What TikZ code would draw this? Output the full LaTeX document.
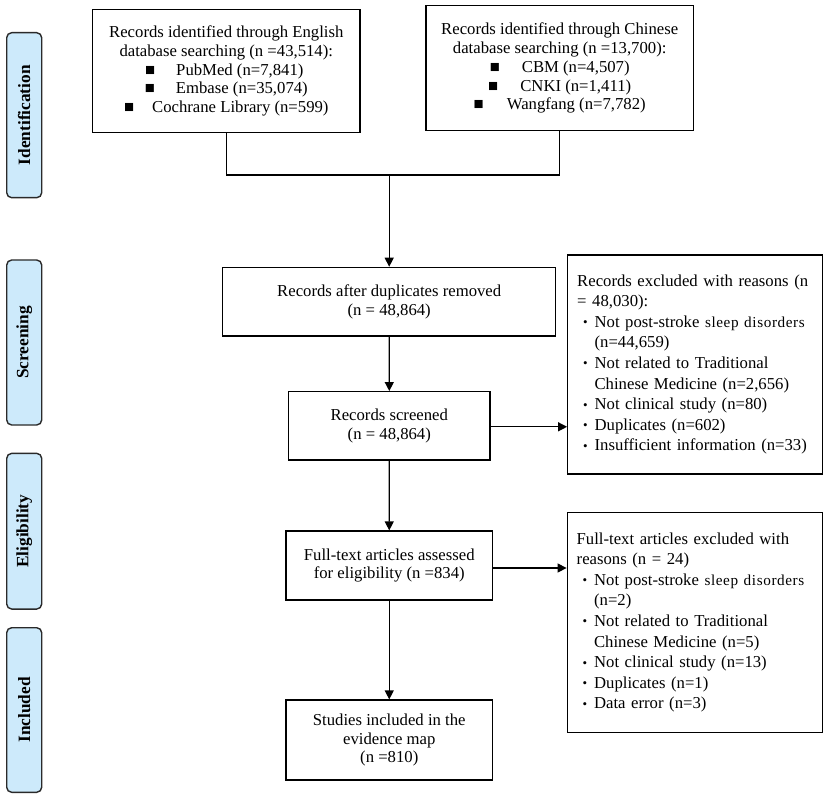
\documentclass[tikz,border=0pt]{standalone}
\usepackage{fontspec}
\setmainfont{Liberation Serif}
\usetikzlibrary{arrows.meta}
\definecolor{stageblue}{HTML}{CDEAFB}
\definecolor{stageline}{HTML}{2A2A2A}
\newcommand\bodyfont{\fontsize{16.7}{18.8}\selectfont}
\newcommand\exfont{\fontsize{16.7}{20.6}\selectfont}
\newcommand\smallsl[1]{{\fontsize{15.2}{20.6}\selectfont\addfontfeatures{LetterSpace=4}#1}}
\newcommand\sqb{■}
\newcommand\itm{\hspace*{5.8pt}\makebox[11.6pt][l]{\raisebox{0.6pt}{\fontsize{13}{13}\selectfont •}}}
\newcommand\cnt{\hspace*{17.4pt}}
\begin{document}
\begin{tikzpicture}[x=1pt,y=-1pt,
  box/.style={draw, line width=1.2pt, inner sep=0pt, align=center, font=\bodyfont},
  exbox/.style={draw, line width=1.2pt, inner xsep=9.5pt, inner ysep=0pt, align=left, text width=236pt, font=\exfont},
  stage/.style={draw=stageline, fill=stageblue, rounded corners=5pt, line width=1.4pt, rotate=90,
    minimum height=35pt, inner sep=0pt, font=\fontsize{17.3}{18}\selectfont\bfseries},
  arr/.style={line width=1.2pt, -{Triangle[length=9pt,width=9pt]}},
  ln/.style={line width=1.2pt}]
\useasboundingbox (0,0) rectangle (829,799);

% stage labels
\node[stage, minimum width=165pt] (sid) at (24.2,115.2) {Identification};
\node[stage, minimum width=165pt] (ssc) at (24.2,342.5) {Screening};
\node[stage, minimum width=155.7pt] (sel) at (24.2,531.2) {Eligibility};
\node[stage, minimum width=164.6pt] (sin) at (24.2,710) {Included};

% boxes
\node[box, minimum width=267.3pt, minimum height=123.4pt] (eng) at (226.3,71)
 {Records identified through English\\database searching (n =43,514):\\
  \hspace*{-4pt}\sqb\hspace{21pt}PubMed (n=7,841)\\
  \sqb\hspace{21pt}Embase (n=35,074)\\
  \sqb\hspace{18pt}Cochrane Library (n=599)};
\node[box, minimum width=267.3pt, minimum height=125pt] (chn) at (559.7,68.2)
 {Records identified through Chinese\\database searching (n =13,700):\\
  \sqb\hspace{22pt}CBM (n=4,507)\\
  \sqb\hspace{22pt}CNKI (n=1,411)\\
  \sqb\hspace{23pt}Wangfang (n=7,782)};
\node[box, minimum width=333pt, minimum height=68.7pt] (dup) at (389.2,301.7)
 {Records after duplicates removed\\(n = 48,864)};
\node[box, minimum width=201.3pt, minimum height=68.3pt] (scr) at (389.3,425.8)
 {Records screened\\(n = 48,864)};
\node[box, minimum width=206.5pt, minimum height=69pt] (ful) at (389.25,565.5)
 {Full-text articles assessed\\for eligibility (n =834)};
\node[box, minimum width=206.5pt, minimum height=80pt] (inc) at (389.25,740)
 {Studies included in the\\evidence map\\(n =810)};

\node[exbox, minimum height=219pt] (ex1) at (695.2,364.5)
 {Records excluded with reasons (n\\
  = 48,030):\\
  \itm Not post-stroke \smallsl{sleep disorders}\\
  \cnt(n=44,659)\\
  \itm Not related to Traditional\\
  \cnt Chinese Medicine (n=2,656)\\
  \itm Not clinical study (n=80)\\
  \itm Duplicates (n=602)\\
  \itm Insufficient information (n=33)};
\node[exbox, minimum height=219.6pt] (ex2) at (694.7,622.5)
 {Full-text articles excluded with\\
  reasons (n = 24)\\
  \itm Not post-stroke \smallsl{sleep disorders}\\
  \cnt(n=2)\\
  \itm Not related to Traditional\\
  \cnt Chinese Medicine (n=5)\\
  \itm Not clinical study (n=13)\\
  \itm Duplicates (n=1)\\
  \itm Data error (n=3)};

% connectors
\coordinate (jl) at (eng.south |- 0,175);
\coordinate (jr) at (chn.south |- 0,175);
\coordinate (jm) at (dup.north |- 0,175);
\draw[ln] (eng.south) -- (jl) -- (jr) -- (chn.south);
\draw[arr] (jm) -- (dup.north);
\draw[arr] (dup.south) -- (scr.north);
\draw[arr] (scr.south) -- (ful.north);
\draw[arr] (ful.south) -- (inc.north);
\draw[arr] ([yshift=-1pt]scr.east) -- ([yshift=-1pt]scr.east -| ex1.west);
\draw[arr] ([yshift=-2.5pt]ful.east) -- ([yshift=-2.5pt]ful.east -| ex2.west);
\end{tikzpicture}
\end{document}
